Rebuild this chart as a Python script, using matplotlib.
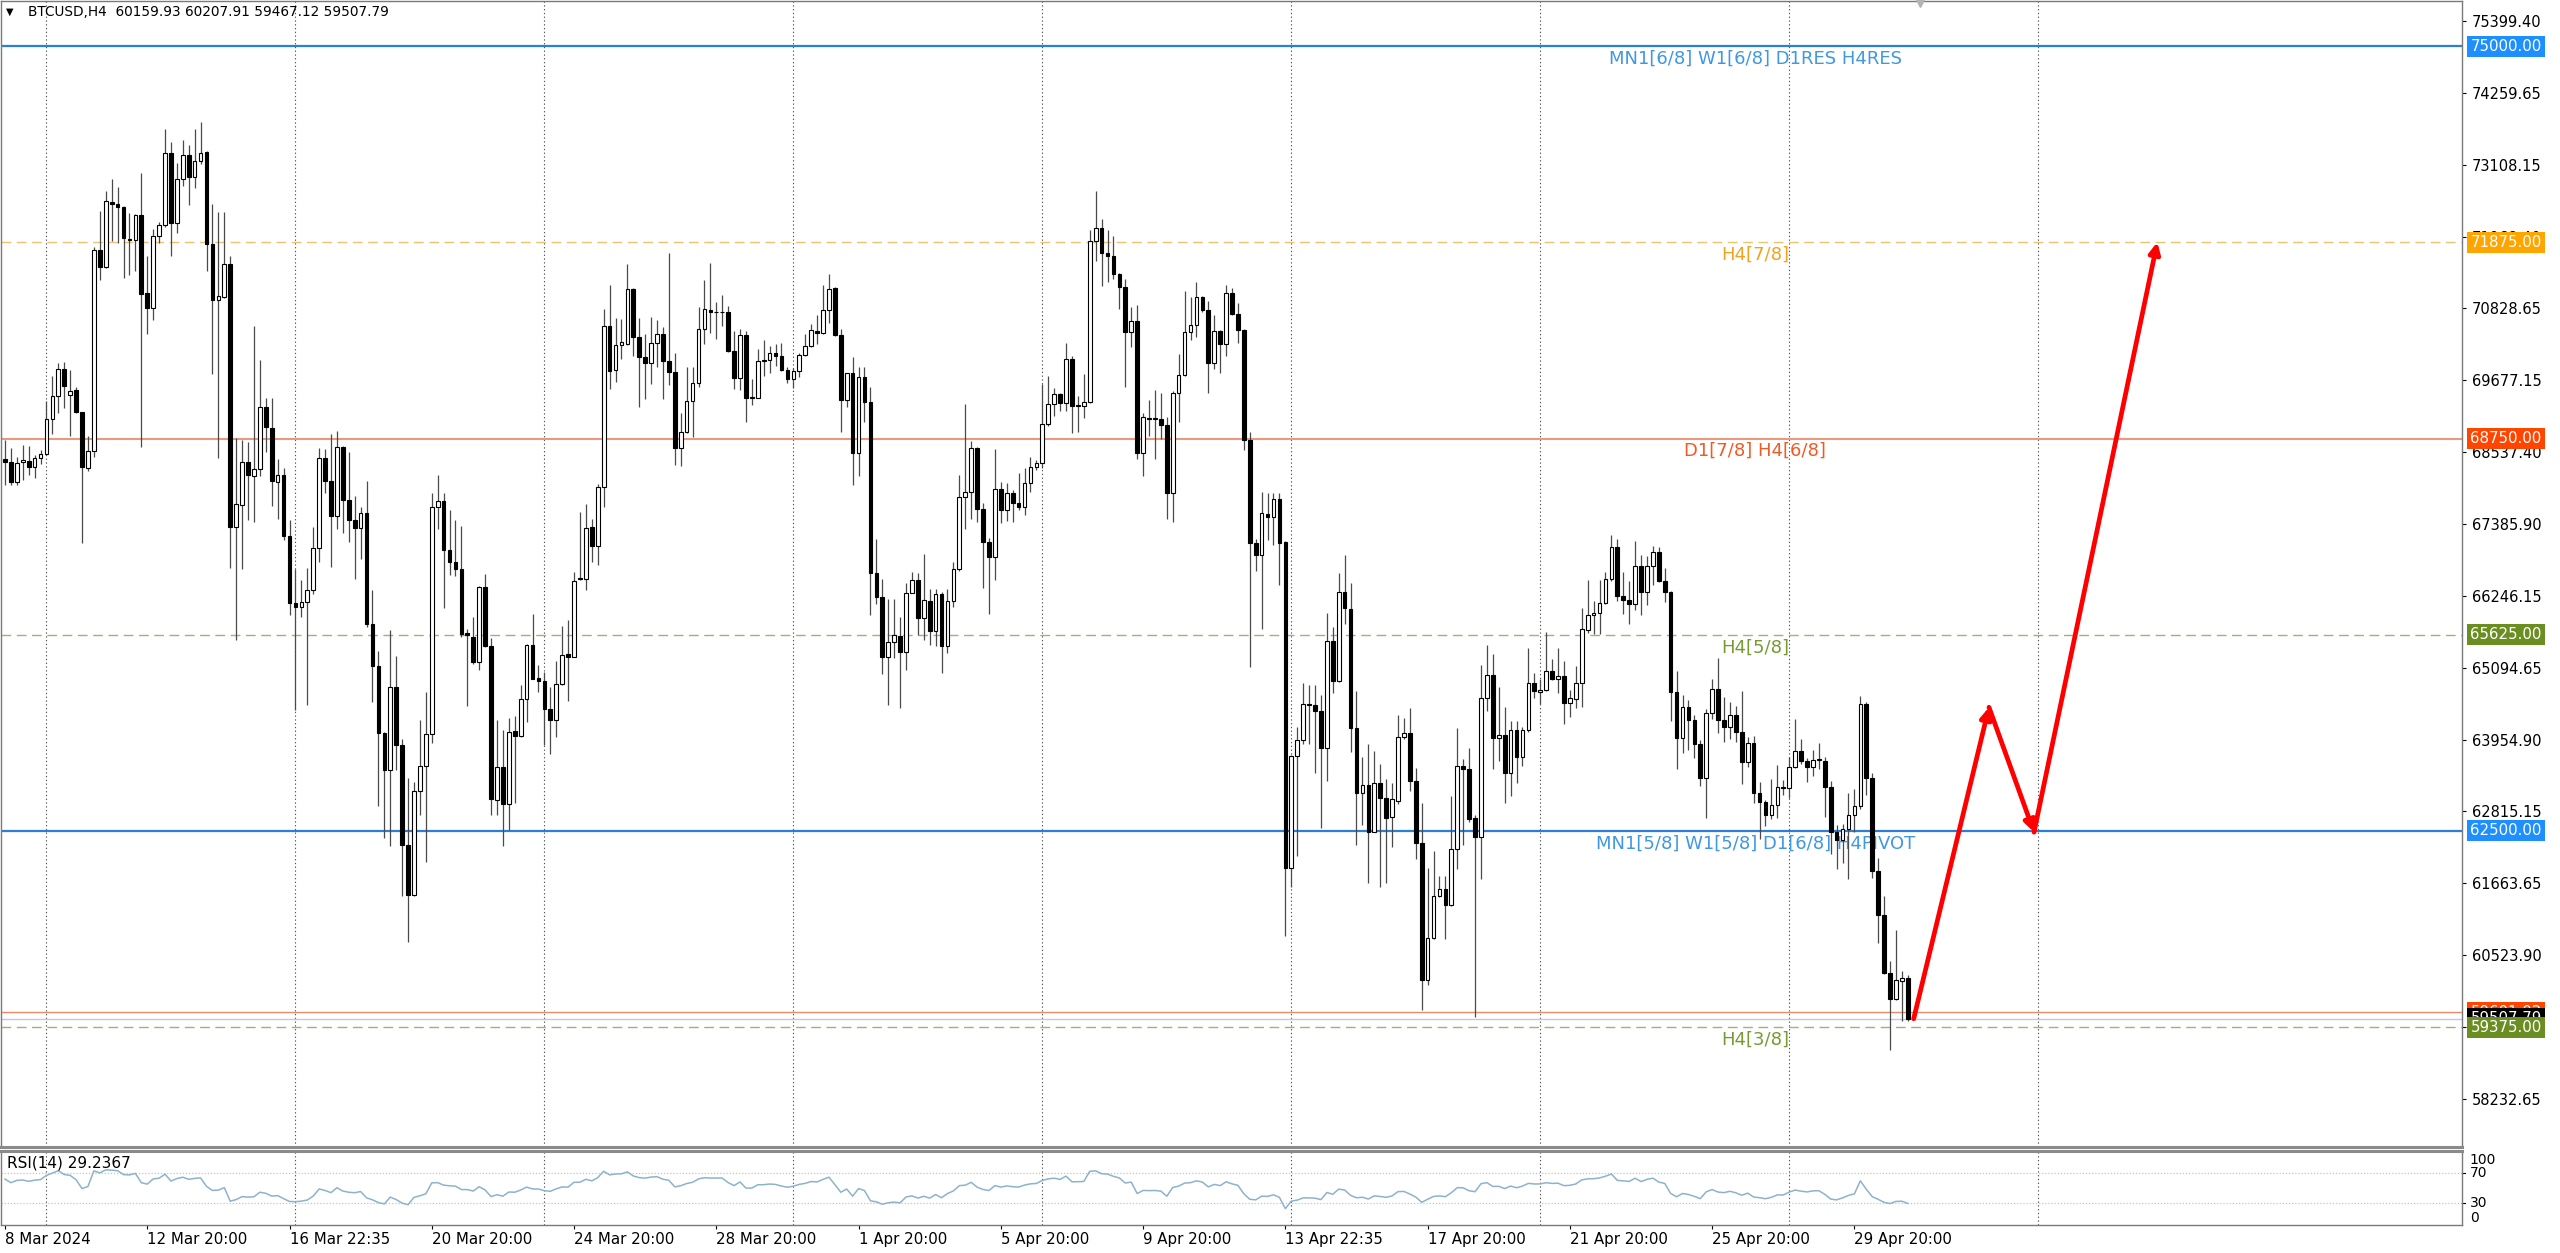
import numpy as np
import matplotlib
matplotlib.use("Agg")
import matplotlib.pyplot as plt
from matplotlib.transforms import blended_transform_factory, offset_copy

# ---------------- data ----------------
title_text = "BTCUSD,H4  60159.93 60207.91 59467.12 59507.79"
rsi_title = "RSI(14) 29.2367"

opens = [68420, 68381, 68052, 68370, 68400, 68297, 68443, 68510, 69068, 69432,
         69862, 69440, 69532, 69169, 68275, 68555, 71750, 71482, 72521, 72488,
         72432, 71929, 71918, 72309, 71069, 70828, 71985, 72152, 73303, 72186,
         72879, 73270, 72912, 73175, 73315, 71851, 70951, 71007, 71527, 67348,
         67700, 68381, 68147, 68258, 69247, 68912, 68063, 68163, 67197, 66135,
         66063, 66146, 66331, 67001, 68443, 68071, 67523, 68612, 67772, 67452,
         67331, 67559, 65795, 65127, 64060, 63470, 64799, 63861, 62282, 61478,
         63135, 63540, 64039, 67666, 67751, 66976, 66777, 66670, 65653, 65582,
         65198, 66385, 65440, 62993, 63526, 62936, 64088, 64017, 64607, 65461,
         64942, 64892, 64444, 64266, 64842, 65319, 65269, 66528, 66506, 67346,
         67040, 67986, 70546, 69835, 70247, 70262, 71129, 70368, 70045, 69960,
         70279, 70411, 69992, 69817, 68606, 68861, 69355, 69641, 70491, 70799,
         70762, 70772, 70762, 70151, 69710, 70401, 69418, 69392, 69992, 70002,
         70119, 70066, 69843, 69694, 69833, 70082, 70225, 70464, 70427, 70799,
         71144, 70401, 69365, 69790, 68526, 69726, 69339, 66615, 66222, 65277,
         65515, 65606, 65356, 66296, 66498, 65887, 66169, 65691, 66275, 65446,
         66169, 66668, 67815, 67905, 68595, 67624, 67109, 66859, 67942, 67613,
         67889, 67730, 67666, 68048, 68293, 68367, 68983, 69302, 69461, 69312,
         70013, 69270, 69270, 69339, 71904, 72111, 71702, 71659, 71373, 71160,
         70454, 70629, 68516, 69073, 69057, 69057, 68967, 67879, 69472, 69764,
         70454, 70560, 71001, 70799, 69960, 70470, 70257, 71075, 70735, 70481,
         68728, 67093, 66896, 67544, 67507, 67783, 67097, 61917, 63688, 63945,
         64515, 64504, 64404, 63817, 65521, 64895, 66314, 66035, 64135, 63102,
         63230, 62487, 63258, 63018, 62716, 62979, 64001, 64068, 63297, 62308,
         60130, 60800, 61470, 61582, 61319, 62213, 63538, 63482, 62700, 62403,
         64616, 64990, 63984, 64024, 63426, 64113, 63677, 64113, 64862, 64711,
         64739, 65046, 64918, 64973, 64543, 64599, 64862, 65700, 65940, 65979,
         66137, 66510, 67026, 66247, 66181, 66110, 66713, 66302, 66713, 66949,
         66477, 66313, 64711, 63987, 64481, 64272, 63877, 63350, 64371, 64755,
         64261, 64151, 64354, 64080, 63603, 63899, 63109, 62966, 62747, 62912,
         63202, 63186, 63515, 63767, 63614, 63515, 63625, 63614, 63202, 62489,
         62352, 62528, 62747, 62890, 64519, 63350, 61858, 61156, 60240, 59828,
         60114, 60159.93]

highs = [68720, 68594, 68454, 68649, 68633, 68482, 68566, 69348, 69750, 69962,
         69974, 69839, 69571, 69180, 68789, 71806, 72376, 72700, 72879, 72756,
         72449, 72337, 72320, 72979, 71666, 72085, 72197, 73678, 73471, 73147,
         73510, 73426, 73678, 73789, 73326, 72488, 72365, 72365, 71666, 68761,
         68733, 68689, 70549, 70007, 69393, 69393, 68426, 68286, 67448, 66666,
         66498, 66694, 67348, 68594, 68590, 68825, 68875, 68626, 68540, 67843,
         67666, 68071, 66336, 65368, 64074, 65696, 65283, 63967, 63349, 63278,
         64273, 64714, 67879, 68178, 67879, 67616, 67452, 67360, 65724, 65909,
         66406, 66599, 65568, 64273, 64110, 64302, 64323, 64821, 65482, 65959,
         65141, 65034, 64785, 65212, 65767, 65866, 66620, 67573, 67701, 67474,
         68021, 70816, 71200, 70674, 70653, 71527, 71150, 70666, 70417, 70693,
         70640, 70523, 71702, 70119, 69153, 69886, 69896, 70852, 71277, 71553,
         70932, 71038, 70863, 70470, 70491, 70470, 69694, 70172, 70321, 70225,
         70257, 70279, 69896, 69870, 70119, 70417, 70576, 70719, 71197, 71372,
         71160, 70491, 69801, 70045, 69886, 69886, 69578, 67146, 66508, 66190,
         66190, 65903, 66455, 66631, 66615, 66912, 66349, 66349, 66300, 66349,
         66790, 68171, 69302, 68718, 68622, 67730, 67162, 68580, 68064, 68048,
         67932, 68208, 68277, 68452, 68410, 69620, 69748, 69551, 69472, 70268,
         70066, 69429, 69780, 72074, 72700, 72243, 72074, 71978, 71394, 71288,
         70852, 70879, 69153, 69365, 69525, 69472, 69100, 69514, 70098, 71107,
         71001, 71250, 71022, 70948, 70720, 70481, 71197, 71144, 70916, 70491,
         68861, 67146, 67905, 67879, 67889, 67879, 67113, 63705, 64152, 64862,
         64823, 64823, 64672, 65979, 65744, 66610, 66890, 66443, 64728, 63677,
         63889, 63778, 63565, 63331, 63258, 64348, 64292, 64459, 63510, 62940,
         61917, 62180, 61778, 61778, 63063, 64135, 63649, 63817, 62755, 65141,
         65454, 65325, 64795, 64471, 64247, 64247, 64152, 65420, 65018, 64918,
         65677, 65242, 65420, 65214, 64739, 65130, 66052, 66499, 66164, 66499,
         66631, 67207, 67152, 66631, 66477, 67125, 66894, 66878, 67043, 67026,
         66686, 66329, 65051, 64667, 64590, 64354, 63943, 64448, 64919, 65249,
         64629, 64557, 64492, 64722, 63998, 64009, 63274, 62999, 63328, 63548,
         63312, 63680, 64283, 63970, 63669, 63789, 63899, 63680, 63296, 62599,
         62615, 63109, 63164, 64656, 64557, 63422, 62067, 61463, 60432, 60926,
         60267, 60207.91]

lows = [68010, 68007, 68007, 68091, 68175, 68119, 68342, 68482, 68817, 69152,
        69236, 68789, 69152, 67085, 68230, 68454, 71275, 71471, 71890, 71862,
        71303, 71359, 71415, 68610, 70421, 70644, 71862, 72113, 71666, 72030,
        72767, 72477, 72745, 73119, 71415, 69784, 68437, 70996, 66694, 65538,
        66666, 67459, 67420, 68147, 68538, 67683, 67476, 67141, 65940, 64420,
        65912, 64500, 66275, 66778, 67879, 66705, 67310, 67239, 67097, 66506,
        66833, 65745, 64558, 62901, 62381, 62260, 63470, 61457, 60731, 61457,
        62758, 62012, 63896, 67310, 66051, 66578, 66563, 65582, 64486, 65155,
        65070, 65425, 62758, 62758, 62260, 62510, 62950, 64003, 64230, 64913,
        64714, 63861, 63733, 63989, 64821, 64572, 65269, 66492, 66336, 66790,
        66741, 67666, 69536, 69657, 70013, 70247, 70062, 69259, 69376, 69620,
        69896, 69376, 69604, 68330, 68314, 68834, 68781, 69578, 70257, 70427,
        70332, 70544, 70135, 69535, 69525, 69020, 69286, 69392, 69748, 69801,
        69907, 69833, 69641, 69551, 69737, 70066, 70215, 70257, 70417, 70587,
        70385, 68861, 69259, 68011, 68155, 69020, 65940, 66116, 65001, 64507,
        65250, 64454, 65064, 66285, 65621, 65542, 65462, 65446, 65022, 65330,
        66073, 66646, 67305, 67464, 67427, 66365, 65956, 66498, 67401, 67443,
        67427, 67613, 67533, 67905, 68250, 68277, 68951, 69111, 69196, 69196,
        68845, 68861, 69073, 69323, 71585, 71181, 71250, 71288, 70810, 69567,
        70204, 68420, 68155, 68792, 68420, 68739, 67464, 67427, 69020, 69748,
        70321, 70374, 70773, 69482, 69854, 69790, 70066, 70720, 70279, 68569,
        65107, 66647, 65712, 67135, 67055, 66418, 60828, 61610, 62102, 63889,
        63889, 63426, 62549, 63297, 64694, 64878, 65800, 63761, 62269, 62588,
        61677, 62476, 61610, 61666, 62252, 62923, 63968, 63130, 62057, 59644,
        60046, 60783, 61443, 60772, 61303, 61889, 62269, 62644, 59543, 61733,
        64404, 63482, 63621, 62951, 63063, 63258, 63538, 64079, 64616, 64515,
        64728, 64906, 64694, 64208, 64320, 64459, 64471, 65661, 65633, 65633,
        66110, 66477, 66165, 65962, 65797, 66017, 65945, 66093, 66412, 66467,
        66148, 64245, 63493, 63734, 63789, 63658, 63219, 62709, 64283, 64064,
        63916, 63970, 63916, 63241, 63515, 62944, 62379, 62583, 62692, 62709,
        63065, 63021, 63500, 63559, 63274, 63383, 63493, 62725, 62133, 61886,
        61995, 61738, 62489, 62857, 63065, 61749, 60717, 60213, 59006, 59801,
        59472, 59467.12]

closes = [68380, 68052, 68359, 68409, 68297, 68437, 68510, 69068, 69432, 69862,
          69582, 69515, 69169, 68303, 68555, 71750, 71488, 72532, 72488, 72432,
          71946, 71918, 72309, 71052, 70828, 71985, 72152, 73303, 72186, 72879,
          73270, 72924, 73175, 73303, 71851, 70951, 71024, 71527, 67348, 67716,
          68381, 68175, 68258, 69247, 68929, 68074, 68175, 67197, 66135, 66063,
          66146, 66331, 67001, 68443, 68071, 67523, 68612, 67772, 67452, 67331,
          67559, 65795, 65127, 64060, 63470, 64799, 63861, 62282, 61478, 63135,
          63540, 64039, 67666, 67751, 66976, 66777, 66670, 65639, 65625, 65198,
          66385, 65440, 63007, 63526, 62936, 64074, 64017, 64607, 65461, 64928,
          64892, 64444, 64266, 64842, 65297, 65269, 66478, 66506, 67331, 67040,
          67986, 70546, 69821, 70247, 70283, 71129, 70368, 70048, 69960, 70279,
          70411, 69992, 69817, 68606, 68861, 69355, 69641, 70491, 70810, 70762,
          70772, 70762, 70151, 69710, 70401, 69392, 69392, 69992, 70002, 70119,
          70066, 69843, 69694, 69833, 70082, 70225, 70480, 70438, 70799, 71128,
          70401, 69365, 69790, 68526, 69726, 69339, 66604, 66222, 65277, 65515,
          65621, 65356, 66296, 66498, 65887, 66179, 65691, 66275, 65446, 66169,
          66668, 67815, 67905, 68595, 67624, 67109, 66859, 67942, 67613, 67889,
          67730, 67666, 68048, 68293, 68367, 68983, 69302, 69461, 69312, 70013,
          69270, 69286, 69339, 71904, 72100, 71712, 71659, 71373, 71160, 70454,
          70629, 68516, 69089, 69057, 69073, 68967, 67879, 69472, 69764, 70454,
          70560, 71001, 70799, 69960, 70470, 70257, 71075, 70735, 70481, 68728,
          67093, 66896, 67560, 67507, 67783, 67093, 61917, 63688, 63945, 64515,
          64504, 64404, 63817, 65521, 64895, 66314, 66052, 64135, 63102, 63230,
          62487, 63258, 63018, 62700, 63007, 64001, 64057, 63297, 62308, 60130,
          60800, 61470, 61582, 61319, 62213, 63538, 63482, 62683, 62403, 64616,
          64990, 63984, 64024, 63426, 64113, 63677, 64113, 64862, 64728, 64739,
          65046, 64918, 64962, 64543, 64616, 64862, 65717, 65940, 65979, 66135,
          66510, 67026, 66247, 66181, 66110, 66713, 66302, 66713, 66949, 66477,
          66313, 64711, 63987, 64481, 64272, 63877, 63350, 64371, 64755, 64261,
          64151, 64354, 64080, 63603, 63899, 63109, 62966, 62747, 62912, 63202,
          63186, 63515, 63767, 63614, 63515, 63625, 63641, 63202, 62489, 62352,
          62528, 62747, 62890, 64519, 63350, 61858, 61156, 60240, 59828, 60130,
          60158, 59507.79]

date_labels = ["8 Mar 2024", "12 Mar 20:00", "16 Mar 22:35", "20 Mar 20:00",
               "24 Mar 20:00", "28 Mar 20:00", "1 Apr 20:00", "5 Apr 20:00",
               "9 Apr 20:00", "13 Apr 22:35", "17 Apr 20:00", "21 Apr 20:00",
               "25 Apr 20:00", "29 Apr 20:00"]
date_label_bars = [0, 24, 48, 72, 96, 120, 144, 168, 192, 216, 240, 264, 288, 312]
separator_bars = [7, 49, 91, 133, 175, 217, 259, 301, 343]

price_ticks = [75399.40, 74259.65, 73108.15, 71968.40, 70828.65, 69677.15,
               68537.40, 67385.90, 66246.15, 65094.65, 63954.90, 62815.15,
               61663.65, 60523.90, 59383.65, 58232.65]

levels = [75000, 71875, 68750, 65625, 62500, 59375]
level_names = ["MN1[6/8] W1[6/8] D1RES H4RES", "H4[7/8]", "D1[7/8] H4[6/8]",
               "H4[5/8]", "MN1[5/8] W1[5/8] D1[6/8] H4PIVOT", "H4[3/8]"]
extra_level = 59610
bid_price = 59507.79

forecast_bars = [322, 334.7, 342.3, 363.1]
forecast_prices = [59508, 64470, 62480, 71880]

rsi_levels = [70, 30]
rsi_axis_labels = ["100", "70", "30", "0"]
rsi_at_left_edge = 62.0   # RSI value read at the chart's left edge

# ---------------- styling ----------------
W, H = 2560, 1253
fig = plt.figure(figsize=(W / 100, H / 100), dpi=100)
fig.patch.set_facecolor("white")

def rect(x0, y0, x1, y1):
    return [x0 / W, 1 - y1 / H, (x1 - x0) / W, (y1 - y0) / H]

ax = fig.add_axes(rect(1, 1, 2462, 1147))
axr = fig.add_axes(rect(1, 1151, 2462, 1225))

o = np.array(opens, float)
h = np.array(highs, float)
l = np.array(lows, float)
c = np.array(closes, float)
n = len(c)
x = np.arange(n)
up = c >= o

ax.set_xlim(-0.67, 414.5)
ax.set_ylim(57465, 75721)

# separators
for b in separator_bars:
    ax.axvline(b, color="#555555", lw=0.8, ls=(0, (1.2, 2.2)), zorder=1)
    axr.axvline(b, color="#555555", lw=0.8, ls=(0, (1.2, 2.2)), zorder=1)

# level lines
level_style = {
    75000: dict(color="#2b7fd6", lw=1.6, ls="-"),
    71875: dict(color="#e9c572", lw=1.0, ls=(0, (7, 4))),
    68750: dict(color="#e99a7e", lw=1.5, ls="-"),
    65625: dict(color="#a7ad80", lw=1.0, ls=(0, (7, 4))),
    62500: dict(color="#2b7fd6", lw=1.6, ls="-"),
    59375: dict(color="#a7ad80", lw=1.0, ls=(0, (7, 4))),
}
label_colors = {75000: "#3f98e2", 71875: "#f4a21e", 68750: "#ef5a26",
                65625: "#789a33", 62500: "#3f98e2", 59375: "#789a33"}
for lv, name in zip(levels, level_names):
    ax.axhline(lv, zorder=1.5, **level_style[lv])
    ax.annotate(name, xy=(295.3, lv), xytext=(0, -2.5), textcoords="offset points",
                ha="center", va="top", fontsize=13, color=label_colors[lv], zorder=2)
ax.axhline(extra_level, color="#ec8a68", lw=1.0, zorder=1.5)
ax.axhline(bid_price, color="#c3cbd2", lw=1.0, zorder=1.5)

# candles
ax.vlines(x, l, h, color="#4a4a4a", lw=0.9, zorder=2)
ax.bar(x, np.abs(c - o), bottom=np.minimum(o, c), width=0.62,
       color=np.where(up, "white", "black"), edgecolor="black", linewidth=0.8, zorder=3)

# forecast arrows
for i in range(len(forecast_bars) - 1):
    ax.annotate("", xy=(forecast_bars[i + 1], forecast_prices[i + 1]),
                xytext=(forecast_bars[i], forecast_prices[i]),
                arrowprops=dict(arrowstyle="-|>", color="#ff0000", lw=3.4,
                                mutation_scale=16, shrinkA=0, shrinkB=0),
                zorder=6)

# chart shift marker
ax.plot([323.1], [1.0], marker="v", markersize=9, color="#b4b4b4",
        transform=blended_transform_factory(ax.transData, ax.transAxes),
        clip_on=False, zorder=7)

# title
ax.text(0.002, 0.9905, "\u25bc", transform=ax.transAxes, fontsize=7, va="center", ha="left")
ax.text(0.0108, 0.9905, title_text, transform=ax.transAxes, fontsize=9.8,
        va="center", ha="left", color="black")

# right price axis
ax.yaxis.tick_right()
ax.set_yticks(price_ticks)
ax.set_yticklabels([f"{v:.2f}" for v in price_ticks])
ax.tick_params(axis="y", length=3, width=0.8, pad=4, labelsize=10.5, colors="black")
ax.set_xticks([])
for s in ax.spines.values():
    s.set_color("#7a7a7a")
    s.set_linewidth(1.0)
ax.spines["bottom"].set_linewidth(2.2)
ax.spines["bottom"].set_color("#8a8a8a")

box_colors = [(extra_level, "59601.02", "#ff4500"),
              (bid_price, "59507.79", "#000000"),
              (75000, "75000.00", "#1e8fff"), (71875, "71875.00", "#ffa500"),
              (68750, "68750.00", "#ff4500"), (65625, "65625.00", "#6b8e23"),
              (62500, "62500.00", "#1e8fff"), (59375, "59375.00", "#6b8e23")]
for val, txt, col in box_colors:
    ax.annotate(txt, xy=(1.0, val), xycoords=("axes fraction", "data"),
                xytext=(6.0, 0), textcoords="offset points", ha="left", va="center",
                fontsize=10.8, color="white", annotation_clip=False, zorder=8,
                bbox=dict(boxstyle="square,pad=0.2", fc=col, ec="none"))

# RSI (Wilder, 14), seeded with the value read at the left edge
def wilder_rsi(cl, start_value, period=14):
    d = np.diff(cl)
    g = np.where(d > 0, d, 0.0)
    ls = np.where(d < 0, -d, 0.0)
    scale = np.mean(np.abs(d[:period]))
    ag = scale * start_value / 100.0
    al = scale * (1 - start_value / 100.0)
    out = np.empty(len(cl))
    out[0] = start_value
    for i in range(len(d)):
        ag = (ag * (period - 1) + g[i]) / period
        al = (al * (period - 1) + ls[i]) / period
        out[i + 1] = 100.0 * ag / (ag + al)
    return out

rsi = wilder_rsi(c, rsi_at_left_edge)
axr.set_xlim(ax.get_xlim())
axr.set_ylim(0, 100)
for lv in rsi_levels:
    axr.axhline(lv, color="#c4c4c4", lw=0.9, ls=(0, (1, 1.5)), zorder=1)
axr.plot(x, rsi, color="#8db3cb", lw=1.1, zorder=3)
axr.text(0.0025, 0.84, rsi_title, transform=axr.transAxes, fontsize=11,
         va="center", ha="left")
axr.set_yticks([])
tr = blended_transform_factory(axr.transAxes, axr.transAxes)
for lab, yy in zip(rsi_axis_labels, [0.88, 0.70, 0.30, 0.10]):
    axr.text(1.0, yy, lab, transform=offset_copy(tr, fig=fig, x=5.5, y=0, units="points"),
             fontsize=10, va="center", ha="left", clip_on=False)
for yy in [0.70, 0.30]:
    axr.plot([1.0, 1.0 + 3 / 2461], [yy, yy], transform=axr.transAxes, color="black",
             lw=0.8, clip_on=False)
for s in axr.spines.values():
    s.set_color("#7a7a7a")
    s.set_linewidth(1.0)
axr.spines["top"].set_linewidth(2.2)
axr.spines["top"].set_color("#8a8a8a")

axr.set_xticks(date_label_bars)
axr.set_xticklabels(date_labels)
axr.tick_params(axis="x", length=3, width=0.8, pad=2, labelsize=10.8)
for t in axr.get_xticklabels():
    t.set_horizontalalignment("left")

fig.savefig("out.png", dpi=100, facecolor="white")
